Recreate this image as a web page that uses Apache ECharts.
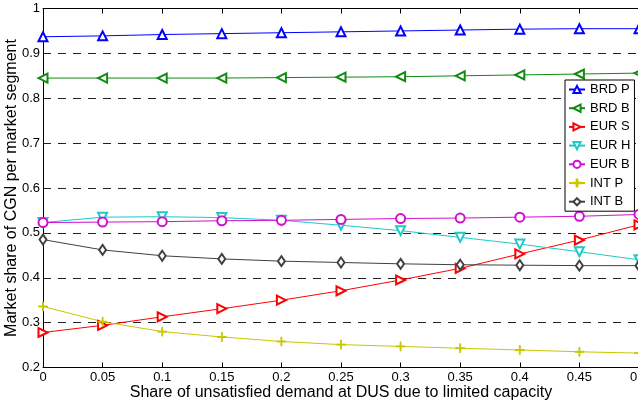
<!DOCTYPE html>
<html><head><meta charset="utf-8">
<script src="https://cdn.jsdelivr.net/npm/echarts@6/dist/echarts.min.js"></script>
<style>html,body{margin:0;padding:0;background:#fff}#c{width:638px;height:402px}</style>
</head><body><div id="c"></div>
<script>
var xValues = [0, 0.05, 0.1, 0.15, 0.2, 0.25, 0.3, 0.35, 0.4, 0.45, 0.5];
var seriesNames = ['BRD P', 'BRD B', 'EUR S', 'EUR H', 'EUR B', 'INT P', 'INT B'];
var brdP = [0.937, 0.939, 0.942, 0.944, 0.946, 0.948, 0.950, 0.952, 0.954, 0.955, 0.955];
var brdB = [0.845, 0.845, 0.845, 0.845, 0.846, 0.847, 0.848, 0.850, 0.852, 0.854, 0.856];
var eurS = [0.278, 0.294, 0.313, 0.331, 0.350, 0.371, 0.395, 0.421, 0.453, 0.484, 0.518];
var eurH = [0.523, 0.535, 0.536, 0.534, 0.528, 0.517, 0.505, 0.490, 0.475, 0.458, 0.440];
var eurB = [0.523, 0.524, 0.525, 0.527, 0.528, 0.530, 0.532, 0.533, 0.535, 0.537, 0.541];
var intP = [0.336, 0.302, 0.280, 0.268, 0.258, 0.251, 0.247, 0.243, 0.239, 0.235, 0.232];
var intB = [0.485, 0.462, 0.449, 0.442, 0.437, 0.434, 0.431, 0.429, 0.428, 0.427, 0.427];
var xTitle = 'Share of unsatisfied demand at DUS due to limited capacity';
var yTitle = 'Market share of CGN per market segment';

var allData = [brdP, brdB, eurS, eurH, eurB, intP, intB];
var colors = ['#0000ff', '#108a10', '#ff0000', '#20c8c8', '#d010d0', '#c8c800', '#404040'];
var plusPath = 'path://M4.5,0 h1 v4.5 h4.5 v1 h-4.5 v4.5 h-1 v-4.5 h-4.5 v-1 h4.5 z';
var symbols = ['emptyTriangle', 'emptyTriangle', 'emptyTriangle', 'emptyTriangle', 'emptyCircle', plusPath, 'emptyDiamond'];
var rotates = [0, 90, -90, 180, 0, 0, 0];
var sizes = [9, 9, 9, 9, 9, 9, [7, 10]];

function pairs(arr) { return arr.map(function (v, i) { return [xValues[i], v]; }); }

var series = seriesNames.map(function (n, i) {
  return {
    name: n, type: 'line', data: pairs(allData[i]),
    symbol: symbols[i], symbolRotate: rotates[i], symbolSize: sizes[i],
    showAllSymbol: true, clip: false,
    lineStyle: { color: colors[i], width: 1 },
    itemStyle: { color: colors[i], borderColor: colors[i], borderWidth: 1 },
    emphasis: { disabled: true }, animation: false
  };
});

var chart = echarts.init(document.getElementById('c'), null, { renderer: 'canvas' });
chart.setOption({
  backgroundColor: '#fff',
  animation: false,
  textStyle: { fontFamily: 'Liberation Sans, Arial, sans-serif' },
  grid: { left: 43, top: 8.5, right: -1, bottom: 34.5, containLabel: false, outerBoundsMode: 'none' },
  legend: {
    orient: 'vertical', left: 565, top: 80, data: seriesNames,
    backgroundColor: '#fff', borderColor: '#000', borderWidth: 1,
    padding: [3, 4, 3, 3], itemGap: 5.7, itemWidth: 16, itemHeight: 9,
    textStyle: { fontSize: 13, color: '#000', fontFamily: 'Liberation Sans, Arial, sans-serif' }
  },
  xAxis: [{
    type: 'value', min: 0, max: 0.5, interval: 0.05, position: 'bottom',
    name: xTitle, nameLocation: 'middle', nameGap: 17, nameMoveOverlap: false,
    nameTextStyle: { fontSize: 16, color: '#000' },
    axisLine: { lineStyle: { color: '#000', width: 1 } },
    axisTick: { inside: true, length: 5, lineStyle: { color: '#000' } },
    axisLabel: { fontSize: 13, color: '#000', margin: 3,
      formatter: function (v) { return String(parseFloat(v.toFixed(2))); } },
    splitLine: { show: false }
  }, {
    type: 'value', min: 0, max: 0.5, interval: 0.05, position: 'top',
    axisLine: { show: true, lineStyle: { color: '#000', width: 1 } },
    axisTick: { inside: true, length: 5, lineStyle: { color: '#000' } },
    axisLabel: { show: false }, splitLine: { show: false }
  }],
  yAxis: {
    type: 'value', min: 0.2, max: 1, interval: 0.1,
    name: yTitle, nameLocation: 'middle', nameGap: 23, nameMoveOverlap: false,
    nameTextStyle: { fontSize: 16, color: '#000' },
    axisLine: { show: true, lineStyle: { color: '#000', width: 1 } },
    axisTick: { show: false },
    axisLabel: { fontSize: 13, color: '#000', margin: 3,
      formatter: function (v) { var r = Math.round(v * 10) / 10; return r === 1 ? '1' : r.toFixed(1); } },
    splitLine: { show: true, lineStyle: { color: '#222', width: 1, type: [8, 7] } }
  },
  series: series
});
</script></body></html>
